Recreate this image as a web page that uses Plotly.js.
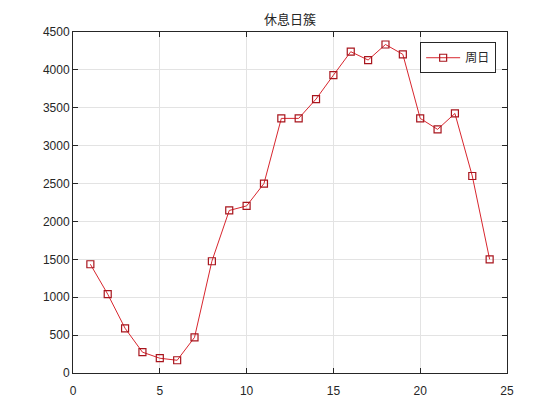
<!DOCTYPE html>
<html>
<head>
<meta charset="utf-8">
<script src="https://cdn.plot.ly/plotly-3.0.1.min.js"></script>
<style>html,body{margin:0;padding:0;background:#fff;}#chart{width:560px;height:420px;}</style>
</head>
<body>
<div id="chart"></div>
<script>
const hours = [1,2,3,4,5,6,7,8,9,10,11,12,13,14,15,16,17,18,19,20,21,22,23,24];
const sundayValues = [1435,1040,590,275,195,168,470,1475,2145,2205,2500,3360,3360,3615,3930,4240,4130,4335,4205,3360,3215,3425,2600,1500];
const seriesName = '周日';
const chartTitle = '休息日簇';

const tickFont = {family: 'Liberation Sans, Arial, sans-serif', size: 12, color: '#262626'};
const axisCommon = {
  showline: true, linecolor: '#262626', linewidth: 1, mirror: 'ticks',
  ticks: 'inside', ticklen: 5, tickcolor: '#262626',
  showgrid: true, gridcolor: '#e3e3e3', gridwidth: 1,
  zeroline: false, tickfont: tickFont
};

Plotly.newPlot('chart', [{
  x: hours, y: sundayValues, name: seriesName,
  type: 'scatter', mode: 'lines+markers',
  line: {color: '#d8262e', width: 1},
  marker: {symbol: 'square-open', size: 7, color: '#a8151d', line: {width: 1.2, color: '#a8151d'}}
}], {
  width: 560, height: 420,
  margin: {l: 73, r: 53, t: 32, b: 47},
  paper_bgcolor: '#ffffff', plot_bgcolor: '#ffffff',
  title: {text: chartTitle, x: 0.518, xanchor: 'center', y: 0.953, yanchor: 'middle',
          font: {family: 'Noto Sans CJK SC, sans-serif', size: 13, color: '#262626'}},
  xaxis: Object.assign({}, axisCommon, {range: [0, 25], dtick: 5, tick0: 0, ticklabelstandoff: 7}),
  yaxis: Object.assign({}, axisCommon, {range: [0, 4500], dtick: 500, tick0: 0}),
  showlegend: true,
  legend: {x: 0.975, xanchor: 'right', y: 0.97, yanchor: 'top', itemwidth: 34,
           bgcolor: '#ffffff', bordercolor: '#262626', borderwidth: 1,
           font: {family: 'Noto Sans CJK SC, sans-serif', size: 12, color: '#262626'}}
}, {displayModeBar: false, staticPlot: true});
</script>
</body>
</html>
